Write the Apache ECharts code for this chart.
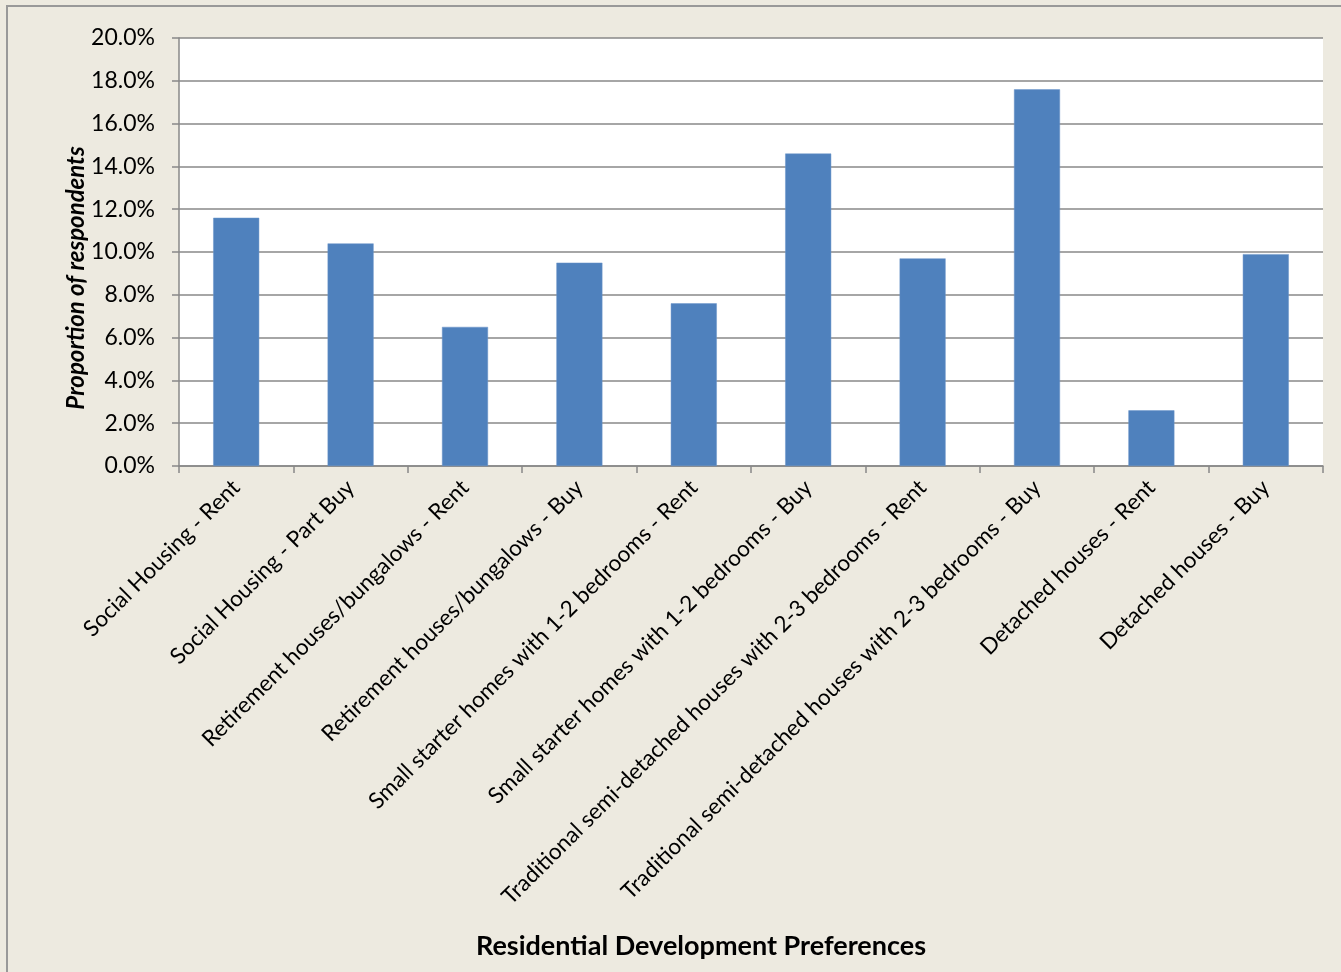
<!DOCTYPE html>
<html>
<head>
<meta charset="utf-8">
<script src="https://cdn.jsdelivr.net/npm/echarts@6/dist/echarts.min.js"></script>
<style>
  html, body { margin: 0; padding: 0; background: #EDEAE0; }
  #chart { width: 1341px; height: 972px; }
</style>
</head>
<body>
<div id="chart"></div>
<script>
// housing preference categories
const categories = [
  'Social Housing - Rent',
  'Social Housing - Part Buy',
  'Retirement houses/bungalows - Rent',
  'Retirement houses/bungalows - Buy',
  'Small starter homes with 1-2 bedrooms - Rent',
  'Small starter homes with 1-2 bedrooms - Buy',
  'Traditional semi-detached houses with 2-3 bedrooms - Rent',
  'Traditional semi-detached houses with 2-3 bedrooms - Buy',
  'Detached houses - Rent',
  'Detached houses - Buy'
];
// proportion of respondents (%)
const proportions = [11.6, 10.4, 6.5, 9.5, 7.6, 14.6, 9.7, 17.6, 2.6, 9.9];
const yTicks = [0, 2, 4, 6, 8, 10, 12, 14, 16, 18, 20];

const font = 'Lato, sans-serif';
const chart = echarts.init(document.getElementById('chart'));

chart.setOption({
  backgroundColor: '#EDEAE0',
  animation: false,
  textStyle: { fontFamily: font },
  grid: { left: 179, top: 38, right: 18, bottom: 506, backgroundColor: '#fff', show: true, borderWidth: 0 },
  graphic: [
    {
      type: 'rect',
      shape: { x: 7, y: 6, width: 1400, height: 1000 },
      style: { fill: 'none', stroke: '#999', lineWidth: 2 },
      z: -1
    },
    {
      type: 'text',
      x: 701, y: 946,
      style: { text: 'Residential Development Preferences', font: 'bold 27px ' + font, fill: '#000', align: 'center', verticalAlign: 'middle' }
    },
    {
      type: 'text',
      x: 76, y: 278, rotation: Math.PI / 2,
      style: { text: 'Proportion of respondents', font: 'italic bold 24px ' + font, fill: '#000', align: 'center', verticalAlign: 'middle' }
    }
  ],
  xAxis: {
    type: 'category',
    data: categories,
    boundaryGap: true,
    axisLine: { lineStyle: { color: '#888', width: 1.5 } },
    axisTick: { show: true, length: 7, lineStyle: { color: '#888', width: 1.5 } },
    axisLabel: { rotate: 45, interval: 0, margin: 18, fontSize: 22.5, color: '#000', fontFamily: font }
  },
  yAxis: {
    type: 'value',
    min: yTicks[0],
    max: yTicks[yTicks.length - 1],
    interval: 2,
    axisLine: { show: true, lineStyle: { color: '#888', width: 1.5 } },
    axisTick: { show: true, length: 7, lineStyle: { color: '#888', width: 1.5 } },
    splitLine: { lineStyle: { color: '#888', width: 1.5 } },
    axisLabel: { margin: 24, fontSize: 23, color: '#000', fontFamily: font, formatter: v => v.toFixed(1) + '%' }
  },
  series: [
    {
      type: 'bar',
      data: proportions,
      barWidth: 46,
      itemStyle: { color: '#4F81BD', borderColor: '#6A95C8', borderWidth: 0.5 }
    }
  ]
});
</script>
</body>
</html>
